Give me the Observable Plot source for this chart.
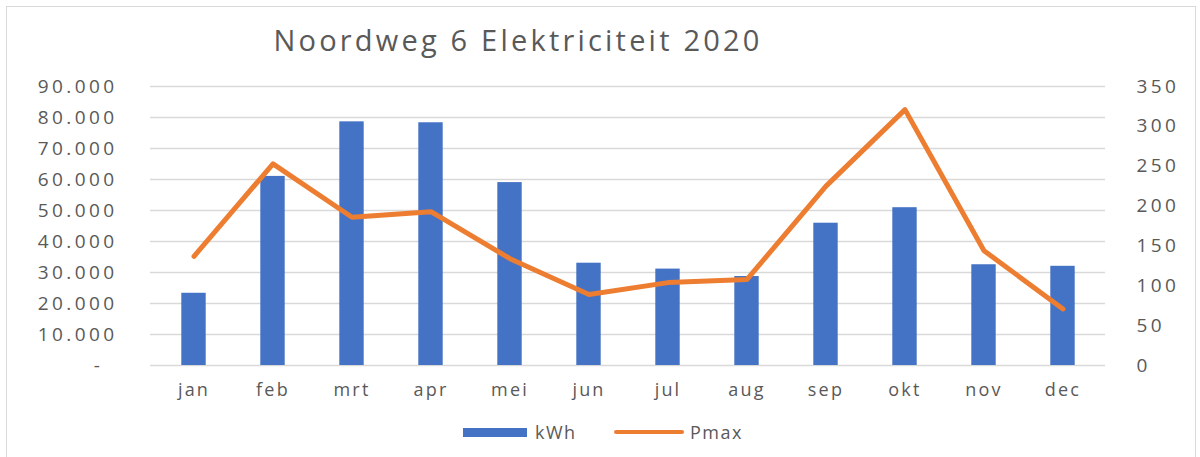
<!DOCTYPE html>
<html>
<head>
<meta charset="utf-8">
<script src="https://cdn.jsdelivr.net/npm/d3@7"></script>
<script src="https://cdn.jsdelivr.net/npm/@observablehq/plot@0.6"></script>
<style>
  html, body { margin: 0; padding: 0; background: #fff; }
  body { width: 1200px; height: 457px; position: relative; overflow: hidden; font-family: "Open Sans", sans-serif; }
  #frame { position: absolute; left: 6px; top: 6px; width: 1190px; height: 470px; border: 1.5px solid #d9d9d9; box-sizing: border-box; }
  #title { position: absolute; left: 0; top: 20px; width: 1036px; text-align: center; font-size: 29px; color: #595959; letter-spacing: 3.2px; }
  #chart { position: absolute; left: 0; top: 60px; }
  #legend { position: absolute; top: 420px; left: 0; width: 1200px; height: 24px; }
  .li { position: absolute; top: 0; font-size: 18px; color: #595959; letter-spacing: 1.5px; line-height: 24px; }
  .sw { position: absolute; }
</style>
</head>
<body>
<div id="frame"></div>
<div id="title">Noordweg 6 Elektriciteit 2020</div>
<div id="chart"></div>
<div id="legend">
  <div class="sw" style="left:463px; top:8px; width:64px; height:9px; background:#4472C4;"></div>
  <div class="li" style="left:535px;">kWh</div>
  <div class="sw" style="left:614px; top:10px; width:70px; height:4px; border-radius:2px; background:#ED7D31;"></div>
  <div class="li" style="left:690px;">Pmax</div>
</div>
<script>
const months = ["jan","feb","mrt","apr","mei","jun","jul","aug","sep","okt","nov","dec"];
const kwh = [23300, 61000, 78600, 78300, 59000, 33000, 31100, 28700, 45900, 50900, 32500, 32000];
const pmax = [137, 253, 186, 193, 134, 89, 104, 108, 225, 321, 144, 71];
const leftTicks = [0,10000,20000,30000,40000,50000,60000,70000,80000,90000];
const rightTicks = [0,50,100,150,200,250,300,350];

const LMAX = 90000, RMAX = 350;
const toLeft = v => v * LMAX / RMAX;

const data = months.map((m, i) => ({month: m, kwh: kwh[i], pmax: pmax[i], pScaled: toLeft(pmax[i])}));

const fmtLeft = d => d === 0 ? "-\u2007" : d3.format(",")(d).replace(/,/g, ".");

const chart = Plot.plot({
  width: 1200,
  height: 350,
  marginLeft: 150,
  marginRight: 95,
  marginTop: 26,
  marginBottom: 45,
  style: {fontFamily: "Open Sans, sans-serif", fontSize: "18px", color: "#595959", background: "transparent"},
  x: {type: "band", domain: months, padding: 0, label: null},
  y: {domain: [0, LMAX], label: null},
  marks: [
    Plot.ruleY(leftTicks, {stroke: "#d9d9d9", strokeWidth: 1.5}),
    Plot.barY(data, {x: "month", y: "kwh", fill: "#4472C4", insetLeft: 27.3, insetRight: 27.3}),
    Plot.line(data, {x: "month", y: "pScaled", stroke: "#ED7D31", strokeWidth: 5, strokeLinejoin: "round", strokeLinecap: "round"}),
    Plot.axisY(leftTicks, {anchor: "left", tickSize: 0, tickPadding: 33, tickFormat: fmtLeft, label: null, fill: "#595959", fontSize: 19, className: "yax"}),
    Plot.axisY(rightTicks.map(toLeft), {anchor: "right", tickSize: 0, tickPadding: 31, tickFormat: d => String(Math.round(d * RMAX / LMAX)), label: null, fill: "#595959", textAnchor: "start", fontSize: 19, className: "yax"}),
    Plot.axisX({tickSize: 0, tickPadding: 18, label: null, fill: "#595959", fontSize: 18})
  ]
});
chart.querySelectorAll("text").forEach(t => t.setAttribute("letter-spacing", "2.2"));
chart.querySelectorAll(".yax text").forEach(t => t.setAttribute("letter-spacing", "3.4"));
document.getElementById("chart").appendChild(chart);
</script>
</body>
</html>
